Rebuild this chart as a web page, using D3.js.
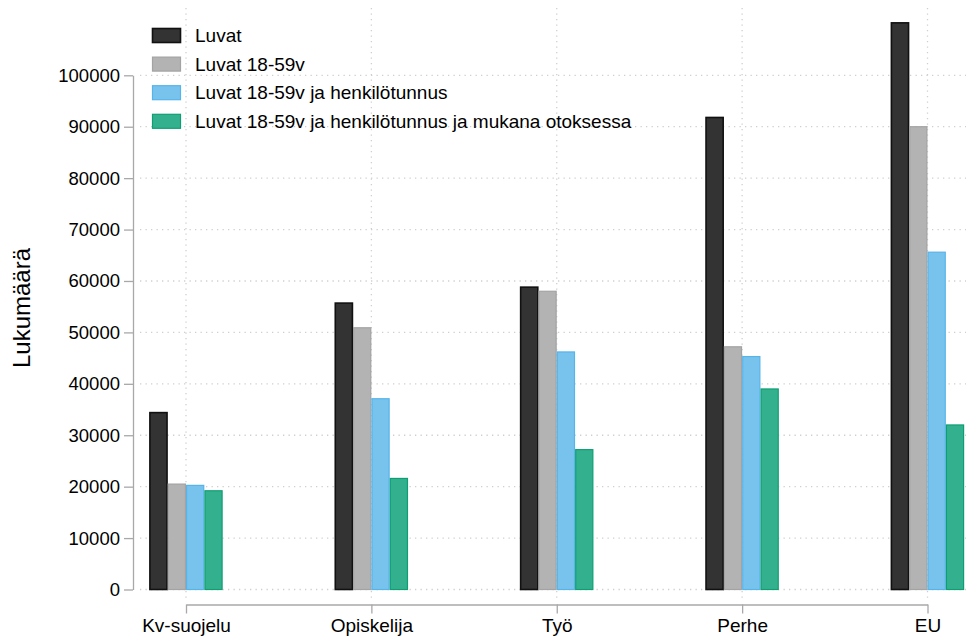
<!DOCTYPE html>
<html>
<head>
<meta charset="utf-8">
<script src="https://cdn.jsdelivr.net/npm/d3@7"></script>
<style>
  html, body { margin: 0; padding: 0; background: #fff; }
  svg { display: block; font-family: Arial, "Liberation Sans", Helvetica, sans-serif; }
</style>
</head>
<body>
<svg id="chart" width="969" height="637"></svg>
<script>
// ---- data ----
const categories = ["Kv-suojelu", "Opiskelija", "Työ", "Perhe", "EU"];
const seriesNames = [
  "Luvat",
  "Luvat 18-59v",
  "Luvat 18-59v ja henkilötunnus",
  "Luvat 18-59v ja henkilötunnus ja mukana otoksessa"
];
const luvat        = [34400, 55700, 58800, 91800, 110200];
const luvat1859    = [20500, 50900, 58000, 47200, 90000];
const henkilotunnus = [20250, 37100, 46200, 45300, 65600];
const otoksessa    = [19200, 21600, 27200, 39000, 32000];
const yTicks = [0, 10000, 20000, 30000, 40000, 50000, 60000, 70000, 80000, 90000, 100000];
const yTitle = "Lukumäärä";

const seriesValues = [luvat, luvat1859, henkilotunnus, otoksessa];
const fills   = ["#333333", "#b3b3b3", "#78c3ed", "#33b18f"];
const strokes = ["#111111", "#a3a3a3", "#56b4e9", "#0f9e73"];

// ---- layout ----
const svg = d3.select("#chart");
const x = d3.scalePoint().domain(categories).range([186, 927.5]);
const xInner = d3.scaleBand().domain(d3.range(seriesNames.length)).range([-36.7, 36.7]).padding(0);
const y = d3.scaleLinear().domain([0, 100000]).range([589.5, 75.3]);

const plotLeft = 140, plotRight = 966, plotTop = 8, plotBottom = 600;
const gridColor = "#cfcfcf";
const axisColor = "#a8a8a8";
const fontFam = "Arial, 'Liberation Sans', sans-serif";

// gridlines
svg.append("g").selectAll("line").data(yTicks).join("line")
  .attr("x1", plotLeft).attr("x2", plotRight)
  .attr("y1", d => y(d)).attr("y2", d => y(d))
  .attr("stroke", gridColor).attr("stroke-width", 1.3)
  .attr("stroke-dasharray", "1.3,4.2");
svg.append("g").selectAll("line").data(categories).join("line")
  .attr("x1", d => x(d)).attr("x2", d => x(d))
  .attr("y1", plotTop).attr("y2", plotBottom)
  .attr("stroke", gridColor).attr("stroke-width", 1.3)
  .attr("stroke-dasharray", "1.3,4.2");

// bars
const barData = [];
seriesValues.forEach((vals, si) => {
  vals.forEach((v, ci) => barData.push({ si, cat: categories[ci], v }));
});
svg.append("g").selectAll("rect").data(barData).join("rect")
  .attr("x", d => x(d.cat) + xInner(d.si) + 0.6)
  .attr("width", xInner.bandwidth() - 1.2)
  .attr("y", d => y(d.v))
  .attr("height", d => y(0) - y(d.v))
  .attr("fill", d => fills[d.si])
  .attr("stroke", d => strokes[d.si])
  .attr("stroke-width", d => d.si === 0 ? 1.6 : 1.2);

// y axis
const yAxis = svg.append("g")
  .attr("transform", "translate(133,0)")
  .call(d3.axisLeft(y).tickValues(yTicks).tickFormat(d3.format("d")).tickSize(9).tickSizeOuter(0).tickPadding(4));
yAxis.select(".domain").attr("stroke", axisColor).attr("stroke-width", 1.3);
yAxis.selectAll(".tick line").attr("stroke", axisColor).attr("stroke-width", 1.3);
yAxis.selectAll(".tick text").attr("fill", "#000").style("font-size", "18.5px")
  .style("font-family", fontFam);

// x axis
const xAxis = svg.append("g")
  .attr("transform", "translate(0,604.5)")
  .call(d3.axisBottom(x).tickSize(9).tickSizeOuter(0).tickPadding(5));
xAxis.select(".domain").attr("stroke", axisColor).attr("stroke-width", 1.3);
xAxis.selectAll(".tick line").attr("stroke", axisColor).attr("stroke-width", 1.3);
xAxis.selectAll(".tick text").attr("fill", "#000").style("font-size", "19px")
  .style("font-family", fontFam);

// y title
svg.append("text")
  .attr("transform", "translate(30,308) rotate(-90)")
  .attr("text-anchor", "middle")
  .style("font-size", "24px")
  .style("font-family", fontFam)
  .attr("fill", "#000")
  .text(yTitle);

// legend
const legend = svg.append("g");
const rowY = i => 35.5 + i * 28.6;
legend.selectAll("rect").data(seriesNames).join("rect")
  .attr("x", 152.5).attr("y", (d, i) => rowY(i) - 7)
  .attr("width", 28).attr("height", 14)
  .attr("fill", (d, i) => fills[i])
  .attr("stroke", (d, i) => strokes[i])
  .attr("stroke-width", (d, i) => i === 0 ? 1.6 : 1.2);
legend.selectAll("text").data(seriesNames).join("text")
  .attr("x", 195).attr("y", (d, i) => rowY(i))
  .attr("dy", "0.35em")
  .style("font-size", "19px")
  .style("font-family", fontFam)
  .attr("fill", "#000")
  .text(d => d);
</script>
</body>
</html>
